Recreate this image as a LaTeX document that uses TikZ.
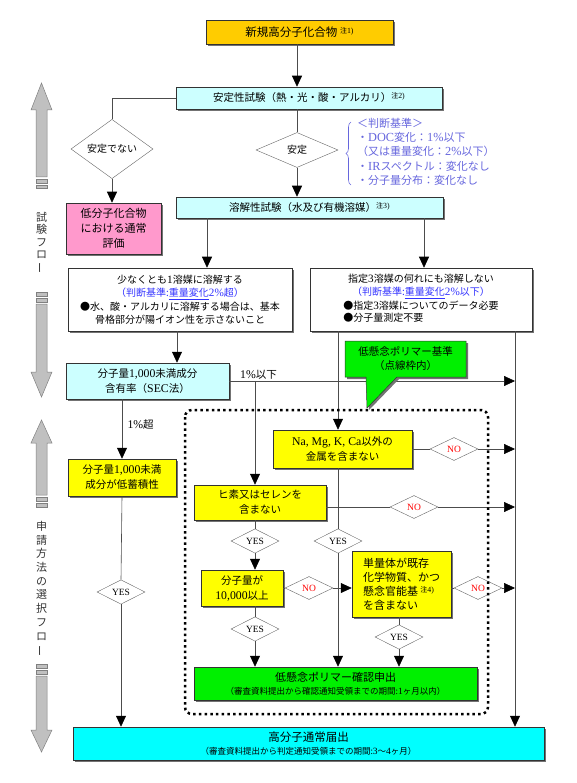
\documentclass[tikz,border=0pt]{standalone}
\usepackage{graphicx}
\usepackage{fontspec}
\setmainfont{Noto Sans CJK JP}
\newfontfamily\lat[Scale=1.12]{Liberation Serif}
\usetikzlibrary{shapes.geometric,arrows.meta,shadows,decorations.pathreplacing}
\definecolor{gold}{HTML}{FFCC00}
\definecolor{pale}{HTML}{CCFFFF}
\definecolor{pinkbox}{HTML}{FF99CC}
\definecolor{yel}{HTML}{FFFF00}
\definecolor{grn}{HTML}{00F000}
\definecolor{aqua}{HTML}{00FFFF}
\definecolor{critblue}{HTML}{3333FF}
\definecolor{lav}{HTML}{6666DD}
\definecolor{shade}{HTML}{C0C0C0}
\newcommand{\chu}[1]{\raisebox{3pt}{\fontsize{7}{7}\selectfont 注{\lat #1)}}}
\tikzset{
  box/.style={draw=black!80, line width=0.5pt, inner sep=1pt, align=center,
    font=\fontsize{10.5}{14}\selectfont,
    drop shadow={shadow xshift=2pt, shadow yshift=-2pt, fill=black!55, opacity=1}},
  dia/.style={diamond, draw=black!60, fill=white, inner sep=0pt,
    minimum width=48pt, minimum height=23pt, font=\fontsize{8.5}{9}\selectfont\lat},
  ln/.style={draw=black!70, line width=0.6pt},
  arr/.style={ln, -{Triangle[width=10pt,length=11pt,color=black]}},
  flowarrow/.style={fill=shade, draw=black!50, line width=0.5pt}
}
\begin{document}
\begin{tikzpicture}[x=1pt,y=-1pt]
\useasboundingbox (0,0) rectangle (576,783);

\draw[flowarrow] (41.5,83) -- (52,110) -- (47,110) -- (47,177) -- (36,177) -- (36,110) -- (31,110) -- cycle;
\draw[flowarrow] (36,179) rectangle (47,183);
\draw[flowarrow] (36,185) rectangle (47,188);
\node[font=\fontsize{11}{12.3}\selectfont, align=center, text=black!80] (testflow) at (41.5,243) {試\\験\\フ\\ロ\\\rotatebox[origin=c]{90}{ー}};
\draw[flowarrow] (36,292) rectangle (47,296);
\draw[flowarrow] (36,298) rectangle (47,302);
\draw[flowarrow] (36,304) -- (47,304) -- (47,372) -- (52,372) -- (41.5,397) -- (31,372) -- (36,372) -- cycle;

\draw[flowarrow] (41.5,420) -- (52,443) -- (47,443) -- (47,495) -- (36,495) -- (36,443) -- (31,443) -- cycle;
\draw[flowarrow] (36,497) rectangle (47,501);
\draw[flowarrow] (36,503) rectangle (47,507);
\node[font=\fontsize{11}{13.7}\selectfont, align=center, text=black!80] (appflow) at (41.5,589) {申\\請\\方\\法\\の\\選\\択\\フ\\ロ\\\rotatebox[origin=c]{90}{ー}};
\draw[flowarrow] (36,664) rectangle (47,668);
\draw[flowarrow] (36,670) rectangle (47,674);
\draw[flowarrow] (36,676) -- (47,676) -- (47,730) -- (52,730) -- (41.5,752) -- (31,730) -- (36,730) -- cycle;

\node[box, fill=gold, minimum width=187pt, minimum height=24pt, font=\fontsize{11.5}{14}\selectfont] (new) at (299.5,32) {新規高分子化合物 \chu{1}};
\node[box, fill=pale, minimum width=266pt, minimum height=22pt] (stab) at (309,98) {安定性試験（熱・光・酸・アルカリ）\chu{2}};
\node[dia, minimum width=82pt, minimum height=36pt, font=\fontsize{10}{12}\selectfont] (unst) at (112,149) {安定でない};
\node[dia, minimum width=82pt, minimum height=35pt, font=\fontsize{10}{12}\selectfont] (st) at (297,150) {安定};
\node[box, fill=pinkbox, minimum width=95pt, minimum height=51pt, font=\fontsize{11}{15}\selectfont] (lowmol) at (113.5,228.5) {低分子化合物\\における通常\\評価};
\node[box, fill=pale, minimum width=267pt, minimum height=21pt] (solv) at (309.5,207.5) {溶解性試験（水及び有機溶媒）\chu{3}};
\node[box, fill=white, minimum width=224pt, minimum height=63pt, font=\fontsize{10}{13.5}\selectfont] (sol) at (180,299.5) {少なくとも{\lat 1}溶媒に溶解する\\{\color{critblue}（判断基準:\underline{重量変化}{\lat 2\%}超）}\\●水、酸・アルカリに溶解する場合は、基本\\骨格部分が陽イオン性を示さないこと};
\node[box, fill=white, minimum width=222pt, minimum height=63pt, font=\fontsize{10}{13.5}\selectfont] (insol) at (421,299.5) {指定{\lat 3}溶媒の何れにも溶解しない\\{\color{critblue}（判断基準:\underline{重量変化}{\lat 2\%}以下）}\\\begin{tabular}{@{}l@{}}●指定{\lat 3}溶媒についてのデータ必要\\[-1.5pt]●分子量測定不要\end{tabular}};
\node[box, fill=pale, minimum width=163pt, minimum height=36pt, font=\fontsize{10.5}{15}\selectfont] (sec) at (147.5,381) {分子量{\lat 1,000}未満成分\\含有率（{\lat SEC}法）};
\node[box, fill=yel, minimum width=108pt, minimum height=37pt, font=\fontsize{10.5}{15}\selectfont] (lowacc) at (122,477.5) {分子量{\lat 1,000}未満\\成分が低蓄積性};
\node[box, fill=yel, minimum width=139pt, minimum height=38pt, font=\fontsize{10.5}{15}\selectfont] (metal) at (342.5,449) {{\lat Na, Mg, K, Ca}以外の\\金属を含まない};
\node[box, fill=yel, minimum width=132pt, minimum height=35pt, font=\fontsize{10.5}{15}\selectfont] (arsen) at (260,502.5) {ヒ素又はセレンを\\含まない};
\node[box, fill=yel, minimum width=82pt, minimum height=36pt, font=\fontsize{10.5}{15}\selectfont] (mw) at (242,588) {分子量が\\{\lat 10,000}以上};
\node[box, fill=yel, minimum width=99pt, minimum height=66pt, align=left, font=\fontsize{11}{14}\selectfont] (mono) at (401.5,584) {単量体が既存\\化学物質、かつ\\懸念官能基 \chu{4}\\を含まない};
\node[box, fill=grn, minimum width=283pt, minimum height=33pt, font=\fontsize{11}{13}\selectfont] (lowpoly) at (335.5,683.5) {低懸念ポリマー確認申出\\{\fontsize{8.5}{10}\selectfont （審査資料提出から確認通知受領までの期間:{\lat 1}ヶ月以内）}};
\node[box, fill=aqua, minimum width=471pt, minimum height=33pt, font=\fontsize{11.5}{13}\selectfont] (normal) at (308.5,743.5) {高分子通常届出\\{\fontsize{8.5}{10}\selectfont （審査資料提出から判定通知受領までの期間:{\lat 3}〜{\lat 4}ヶ月）}};

\node[dia] (no1) at (454,449) {\color{red}NO};
\node[dia] (no2) at (414,507) {\color{red}NO};
\node[dia] (no3) at (309,588) {\color{red}NO};
\node[dia] (no4) at (478,588) {\color{red}NO};
\node[dia] (yes1) at (255,541) {YES};
\node[dia] (yes2) at (338,541) {YES};
\node[dia] (yes3) at (255,629) {YES};
\node[dia] (yes4) at (399,637) {YES};
\node[dia] (yes5) at (121,592) {YES};

\coordinate (c1) at (207,0);
\coordinate (c2) at (177,0);
\coordinate (c3) at (515,0);
\coordinate (c4) at (424,0);

\draw[arr] (new.south -| st) -- (stab.north -| st);
\draw[ln] (stab.south -| st) -- (st.north);
\draw[arr] (st.south) -- (solv.north -| st);
\draw[ln] (stab.west) -| (unst.north);
\draw[arr] (unst.south) -- (lowmol.north -| unst);
\draw[arr] (solv.south -| c1) -- (sol.north -| c1);
\draw[arr] (solv.south -| c4) -- (insol.north -| c4);
\draw[arr] (sol.south -| c2) -- (sec.north -| c2);
\draw[arr] (insol.south -| yes2) -- (metal.north -| yes2);
\draw[arr] (insol.south -| c3) -- (normal.north -| c3);
\draw[arr] (sec.east) -- (sec.east -| c3);
\draw[arr] (sec.east -| yes1) -- (arsen.north -| yes1);
\draw[arr] (sec.south -| lowacc) -- (lowacc.north);
\draw[ln] (lowacc.south) -- (yes5.north);
\draw[arr] (yes5.south) -- (normal.north -| yes5);
\draw[ln] (metal.east) -- (no1.west);
\draw[arr] (no1.east) -- (no1 -| c3);
\draw[ln] (arsen.east |- no2) -- (no2.west);
\draw[arr] (no2.east) -- (no2 -| c3);
\draw[ln] (metal.south -| yes2) -- (yes2.north);
\draw[arr] (yes2.south) -- (lowpoly.north -| yes2);
\draw[ln] (arsen.south -| yes1) -- (yes1.north);
\draw[arr] (yes1.south) -- (mw.north -| yes1);
\draw[ln] (mw.south -| yes3) -- (yes3.north);
\draw[arr] (yes3.south) -- (lowpoly.north -| yes3);
\draw[ln] (mw.east |- no3) -- (no3.west);
\draw[arr] (no3.east) -- (mono.west |- no3);
\draw[ln] (mono.east |- no4) -- (no4.west);
\draw[arr] (no4.east) -- (no4 -| c3);
\draw[ln] (mono.south -| yes4) -- (yes4.north);
\draw[arr] (yes4.south) -- (lowpoly.north -| yes4);

\node[font=\fontsize{10.5}{12}\selectfont] (le) at (258.5,375) {{\lat 1\%}以下};
\node[anchor=west, font=\fontsize{10.5}{12}\selectfont] (gt) at (124,425) {{\lat 1\%}超};

\draw[lav, line width=0.6pt, decorate, decoration={brace, amplitude=5pt}] (351,185) -- (351,122);
\node[anchor=north west, inner sep=0pt, align=left, text=lav, font=\fontsize{11}{14.2}\selectfont] (rule) at (357,118) {＜判断基準＞\\・{\lat DOC}変化：{\lat 1\%}以下\\（又は重量変化：{\lat 2\%}以下）\\・{\lat IR}スペクトル：変化なし\\・分子量分布：変化なし};

\path[draw=black!80, fill=grn, line width=0.5pt, drop shadow={shadow xshift=2pt, shadow yshift=-2pt, fill=black!55, opacity=1}]
  (345,341) -- (466,341) -- (466,377) -- (397,377) -- (367,408) -- (366,377) -- (345,377) -- cycle;
\node[align=center, font=\fontsize{10.5}{14}\selectfont] (crit) at (405.5,359) {低懸念ポリマー基準\\（点線枠内）};

\draw[line width=2.5pt, dash pattern=on 2.5pt off 3.2pt, rounded corners=7pt] (185,410) rectangle (488,714);

\end{tikzpicture}
\end{document}
